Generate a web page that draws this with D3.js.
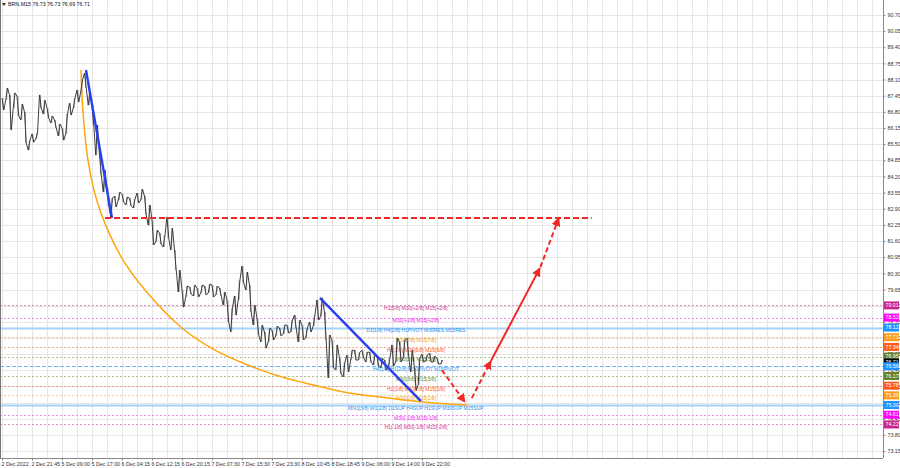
<!DOCTYPE html>
<html><head><meta charset="utf-8">
<script src="https://cdn.jsdelivr.net/npm/d3@7"></script>
<style>body{margin:0;background:#fff}svg{display:block}text{font-family:"Liberation Sans",Arial,sans-serif}</style>
</head><body><svg id="c" width="900" height="468"></svg>
<script>
const title = "BRN,M15 76.73 76.73 76.69 76.71";
const timeLabels = ["2 Dec 2022","2 Dec 21:45","5 Dec 09:00","5 Dec 17:00","6 Dec 04:15","6 Dec 12:15","6 Dec 20:15","7 Dec 07:30","7 Dec 15:30","7 Dec 23:30","8 Dec 10:45","8 Dec 18:45","9 Dec 06:00","9 Dec 14:00","9 Dec 22:00"];
const barsPerLabel = 32;
const sampleStep = 4;
const priceTicks = [73.15,73.80,74.45,75.10,75.75,76.40,77.05,77.70,78.35,79.00,79.65,80.30,80.95,81.60,82.25,82.90,83.55,84.20,84.85,85.50,86.15,86.80,87.45,88.10,88.75,89.40,90.05,90.70];
const priceHigh = [87.35,87.76,87.48,87.56,87.43,87.11,86.79,85.66,85.91,85.95,
 87.48,87.27,86.95,86.63,86.47,86.31,86.15,86.71,87.15,87.35,
 87.68,88.08,88.36,87.60,87.07,86.27,85.06,84.46,83.73,83.33,
 83.41,83.57,83.49,83.37,83.33,83.29,83.53,83.69,83.41,83.05,
 82.45,82.04,81.92,81.84,82.57,82.12,81.24,80.43,79.63,79.79,
 79.75,79.83,79.71,79.83,79.79,79.87,79.83,79.79,79.71,79.55,
 79.23,78.90,79.39,80.03,80.59,80.35,79.83,79.02,78.50,78.22,
 77.94,78.10,78.02,78.18,78.10,78.22,78.22,78.42,78.62,78.42,
 78.22,78.10,78.34,78.62,79.23,79.31,78.74,77.82,77.62,77.42,
 76.89,76.73,77.01,77.21,77.21,77.13,77.21,77.13,77.13,77.01,
 76.97,76.89,76.81,76.89,77.42,77.70,77.54,77.62,77.70,77.21,
 76.49,76.89,77.05,77.01,77.09,76.97,76.89,76.81];
const priceLow = [86.87,87.27,86.07,86.95,86.63,86.47,85.54,85.26,85.58,85.71,
 86.95,86.71,86.55,86.35,86.15,85.83,85.66,85.91,86.67,86.95,
 87.19,87.60,87.76,87.07,86.27,85.06,84.26,83.57,83.05,82.57,
 82.97,83.25,83.17,83.05,83.01,82.93,83.13,83.25,82.65,82.24,
 81.44,81.56,81.48,81.36,81.72,81.24,80.43,79.55,78.94,79.35,
 79.47,79.39,79.35,79.51,79.43,79.51,79.35,79.43,79.39,79.02,
 78.34,77.94,78.62,79.23,79.91,79.63,78.74,78.22,77.82,77.54,
 77.29,77.54,77.62,77.78,77.78,77.86,77.90,77.94,78.10,77.54,
 77.62,77.70,77.94,78.18,78.42,78.58,77.62,76.09,76.49,76.41,
 76.25,76.13,76.33,76.81,76.81,76.81,76.89,76.73,76.73,76.61,
 76.57,76.49,76.41,76.49,76.57,76.73,76.73,76.89,76.97,76.33,
 75.60,75.81,76.73,76.77,76.73,76.73,76.65,76.65];
const lastPrice = 76.71;
const levelPrices = [79.01,78.52,78.12,77.73,77.34,76.95,76.56,76.17,75.78,75.39,75.00,74.61,74.22];
const levelTexts = ["H1[5/8] M30[+2/8] M15[+2/8]","M30[+1/8] M15[+1/8]","D1[1/8] H4[2/8] H1PIVOT M30RES M15RES","M30[7/8] M15[7/8]","H1[3/8] M30[6/8] M15[6/8]","M30[5/8] M15[5/8]","H4[1/8] H1[2/8] M30PIVOT M15PIVOT","M30[3/8] M15[3/8]","H1[1/8] M30[2/8] M15[2/8]","M30[1/8] M15[1/8]","MN1[3/8] W1[2/8] D1SUP H4SUP H1SUP M30SUP M15SUP","M30[-1/8] M15[-1/8]","H1[-1/8] M30[-2/8] M15[-2/8]"];
const levelTextBar = 441.6;
// annotation points: [bar, price]
const blueLine1 = [[89.6,88.48],[117.3,82.53]];
const blueLine2 = [[339.2,79.31],[446.9,75.16]];
const redLevel = [[109.9,82.53],[629.3,82.53]];
const orangeArc = [[84.3,88.48],[85.3,87.48],[87.5,86.27],[91.7,84.86],[98.1,83.65],[104.5,82.85],[115.2,81.84],[131.2,80.71],[152.5,79.63],[192.0,78.10],[227.2,77.21],[262.4,76.61],[298.7,76.13],[323.2,75.89],[360.5,75.56],[403.2,75.32],[449.1,75.12],[496.0,75.00]];
const arrowDown = [[469.3,76.41],[493.9,75.12]];
const arrowUp1 = [[501.3,75.28],[521.6,76.77]];
const arrowUp2 = [[521.6,76.77],[573.9,80.51]];
const arrowUp3 = [[574.5,80.55],[594.1,82.53]];

// styles
const levelColors = ["#d0309a","#ee22ee","#2a90f0","#f0a020","#ff5520","#6b8a2a","#2a90f0","#6b8a2a","#ff5520","#f0a020","#2a90f0","#ee22ee","#d0309a"];
const levelBoxColors = ["#c8258f","#ff00ff","#1e90ff","#ff9a1a","#ff5a1a","#66802a","#1e90ff","#66802a","#ff5a1a","#ff9a1a","#1e90ff","#ff00ff","#c8258f"];

const W = 900, H = 468, R = 883, B = 458;
const svg = d3.select("#c");
const x = d3.scaleLinear().domain([0, 940]).range([2, R]);
const y = d3.scaleLinear().domain([72.87, 91.30]).range([B, 0]);

// grid
const gridBars = d3.range(0, 940, barsPerLabel/2);
svg.append("g").selectAll("line").data(gridBars).join("line")
  .attr("x1", d => Math.round(x(d))+0.5).attr("x2", d => Math.round(x(d))+0.5)
  .attr("y1", 0).attr("y2", B).attr("stroke", "#e6e6e6");
svg.append("g").selectAll("line").data(priceTicks).join("line")
  .attr("x1", 0).attr("x2", R).attr("y1", d => Math.round(y(d))+0.5).attr("y2", d => Math.round(y(d))+0.5)
  .attr("stroke", "#e6e6e6");

// level lines
const lv = svg.append("g");
levelPrices.forEach((p, i) => {
  const yy = Math.round(y(p)) + 0.5;
  const solid = (p === 78.12 || p === 75.00);
  const dashedBlue = (p === 76.56);
  lv.append("line").attr("x1", 0).attr("x2", R).attr("y1", yy).attr("y2", yy)
    .attr("stroke", solid ? "#a6d4fa" : (dashedBlue ? "#6fb4f5" : levelColors[i]))
    .attr("stroke-width", solid ? 2 : 1)
    .attr("stroke-opacity", solid || dashedBlue ? 1 : 0.55)
    .attr("stroke-dasharray", solid ? null : (dashedBlue ? "4,2" : "2,2"));
});
levelPrices.forEach((p, i) => {
  lv.append("text").attr("x", x(levelTextBar)).attr("y", y(p) + 3.5)
    .attr("text-anchor", "middle").attr("dominant-baseline", "middle")
    .attr("font-size", 5).attr("fill", levelColors[i]).text(levelTexts[i]);
});

// orange arc
const line = d3.line().x(d => x(d[0])).y(d => y(d[1]));
svg.append("path").datum(orangeArc).attr("d", line.curve(d3.curveCatmullRom.alpha(0.5)))
  .attr("fill", "none").attr("stroke", "#ffa510").attr("stroke-width", 1.5);
line.curve(d3.curveLinear);

// price bars
const pts = [];
priceHigh.forEach((h, k) => {
  const bx = x(k * sampleStep);
  const l = priceLow[k];
  if (k % 2 === 0) { pts.push([bx, y(h)]); pts.push([bx + 1.8, y(l)]); }
  else { pts.push([bx, y(l)]); pts.push([bx + 1.8, y(h)]); }
});
svg.append("g").selectAll("line").data(priceHigh).join("line")
  .attr("x1", (d, k) => x(k * sampleStep) + 1).attr("x2", (d, k) => x(k * sampleStep) + 1)
  .attr("y1", d => y(d)).attr("y2", (d, k) => y(priceLow[k]))
  .attr("stroke", "#9a9a9a").attr("stroke-width", 1);
svg.append("path").attr("d", d3.line()(pts)).attr("fill", "none")
  .attr("stroke", "#353535").attr("stroke-width", 0.95).attr("stroke-linejoin", "round");

// blue lines
[blueLine1, blueLine2].forEach(b => {
  svg.append("path").datum(b).attr("d", line).attr("stroke", "#2840f0")
    .attr("stroke-width", 2.4).attr("fill", "none");
});
// red dashed level
svg.append("path").datum(redLevel).attr("d", line).attr("stroke", "#f02828")
  .attr("stroke-width", 2).attr("stroke-dasharray", "6,3").attr("fill", "none");

// arrows
svg.append("defs").append("marker").attr("id", "ah").attr("viewBox", "0 0 10 10")
  .attr("refX", 9).attr("refY", 5).attr("markerWidth", 4.5).attr("markerHeight", 4.5)
  .attr("markerUnits", "strokeWidth").attr("orient", "auto")
  .append("path").attr("d", "M0,0 L10,5 L0,10 z").attr("fill", "#f02828");
[[arrowDown, true], [arrowUp1, true], [arrowUp2, false], [arrowUp3, true]].forEach(([a, dashed]) => {
  svg.append("path").datum(a).attr("d", line).attr("stroke", "#f02828")
    .attr("stroke-width", 2).attr("stroke-dasharray", dashed ? "5,3" : null)
    .attr("fill", "none").attr("marker-end", "url(#ah)");
});

// borders
svg.append("line").attr("x1", 0.5).attr("x2", 0.5).attr("y1", 0).attr("y2", B).attr("stroke", "#777");
svg.append("rect").attr("x", R).attr("y", 0).attr("width", W - R).attr("height", H).attr("fill", "#fff");
svg.append("rect").attr("x", 0).attr("y", B).attr("width", W).attr("height", H - B).attr("fill", "#fff");

// axes
const ya = svg.append("g").attr("transform", `translate(${R + 0.5},0)`)
  .call(d3.axisRight(y).tickValues(priceTicks).tickSize(2).tickPadding(2).tickFormat(d3.format(".2f")));
ya.select(".domain").attr("stroke", "#888").attr("d", `M0,0V${B}`);
ya.selectAll("text").attr("font-size", 5.3).attr("fill", "#333").attr("font-family", "Liberation Sans, Arial");
ya.selectAll(".tick line").attr("stroke", "#888");

const xa = svg.append("g").attr("transform", `translate(0,${B + 0.5})`)
  .call(d3.axisBottom(x).tickValues(timeLabels.map((t, i) => i * barsPerLabel)).tickSize(2).tickPadding(2)
    .tickFormat((d, i) => timeLabels[i]));
xa.select(".domain").attr("stroke", "#888").attr("d", `M0,0H${R}`);
xa.selectAll("text").attr("font-size", 5.3).attr("fill", "#333").attr("text-anchor", "start").attr("dx", -1)
  .attr("font-family", "Liberation Sans, Arial");
xa.selectAll(".tick line").attr("stroke", "#888");

// right price boxes
const boxes = levelPrices.map((p, i) => ({p, c: levelBoxColors[i]}));
boxes.splice(6, 0, {p: lastPrice, c: "#000"});
const bx = svg.append("g");
boxes.forEach(b => {
  const yy = y(b.p);
  bx.append("rect").attr("x", R + 1).attr("y", yy - 4).attr("width", 15).attr("height", 8).attr("fill", b.c);
  bx.append("text").attr("x", R + 2.5).attr("y", yy + 0.3).attr("dominant-baseline", "middle")
    .attr("font-size", 5.3).attr("fill", "#fff").text(b.p.toFixed(2));
});

// title
svg.append("path").attr("d", "M2,3 L6,3 L4,6 z").attr("fill", "#333");
svg.append("text").attr("x", 8).attr("y", 5).attr("dominant-baseline", "middle")
  .attr("font-size", 5.3).attr("fill", "#111").text(title);
</script></body></html>
